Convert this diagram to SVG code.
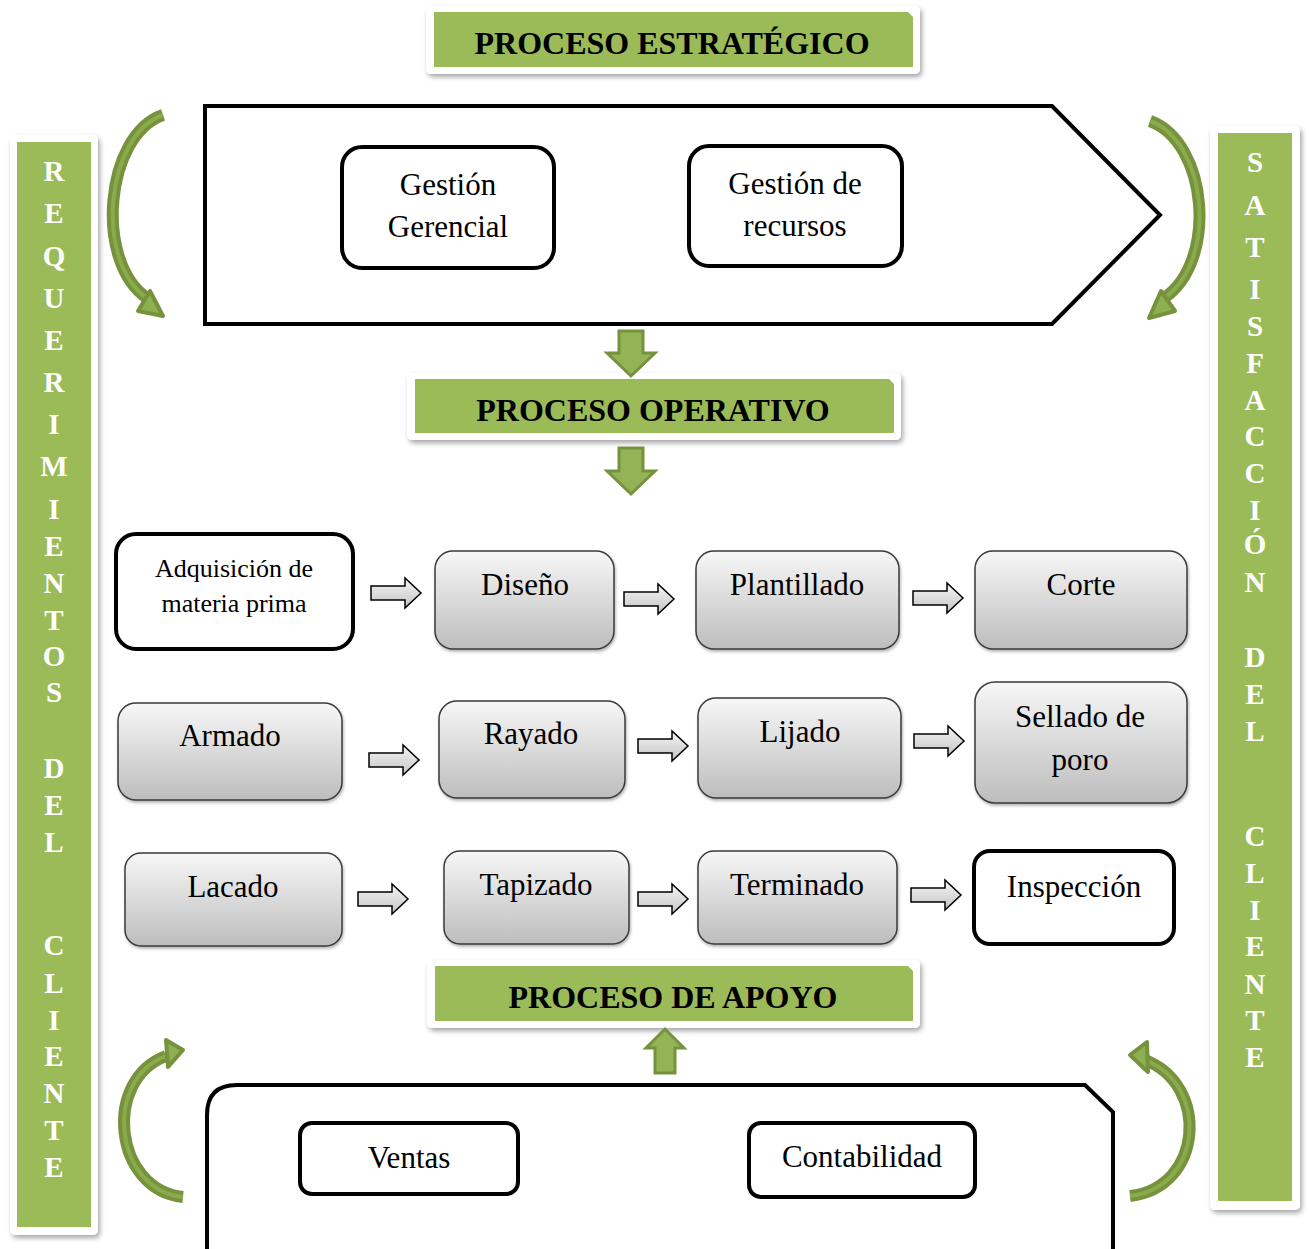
<svg xmlns="http://www.w3.org/2000/svg" width="1309" height="1249" viewBox="0 0 1309 1249">
  <defs>
    <style>
      .card { fill: #ffffff; filter: url(#shadow); }
      .band { fill: #9bbb59; }
      .title { font-family: "Liberation Serif", "Times New Roman", serif; font-weight: bold; font-size: 32px; fill: #000; text-anchor: middle; }
      .side { font-family: "Liberation Serif", "Times New Roman", serif; font-weight: bold; font-size: 29px; fill: #fff; text-anchor: middle; }
      .frame { fill: #fff; stroke: #000; stroke-width: 4; }
      .box { fill: #fff; stroke: #000; stroke-width: 4; }
      .step { fill: url(#grayGrad); stroke: #3a3a3a; stroke-width: 1.5; filter: url(#soft); }
      .lbl { font-family: "Liberation Serif", "Times New Roman", serif; font-size: 31px; fill: #000; text-anchor: middle; }
      .lbl-s { font-family: "Liberation Serif", "Times New Roman", serif; font-size: 26px; fill: #000; text-anchor: middle; }
      .hollow { fill: url(#arrowGrad); stroke: #000; stroke-width: 1.5; stroke-linejoin: miter; }
      .block { fill: #93b356; stroke: #76923c; stroke-width: 3; stroke-linejoin: miter; }
      .curve-out { fill: none; stroke: #76923c; stroke-width: 12; stroke-linecap: butt; }
      .curve-in { fill: none; stroke: #8aab4c; stroke-width: 4; stroke-linecap: butt; }
      .head { fill: #8fb050; stroke: #76923c; stroke-width: 4; stroke-linejoin: round; }
    </style>
    <linearGradient id="grayGrad" x1="0" y1="0" x2="0" y2="1">
      <stop offset="0" stop-color="#f7f7f7"/>
      <stop offset="1" stop-color="#bdbdbd"/>
    </linearGradient>
    <linearGradient id="arrowGrad" x1="0" y1="0" x2="0" y2="1">
      <stop offset="0" stop-color="#f5f5f5"/>
      <stop offset="1" stop-color="#c4c4c4"/>
    </linearGradient>
    <filter id="shadow" x="-10%" y="-10%" width="120%" height="130%">
      <feDropShadow dx="2" dy="3" stdDeviation="2.5" flood-color="#000" flood-opacity="0.35"/>
    </filter>
    <filter id="soft" x="-10%" y="-10%" width="120%" height="130%">
      <feDropShadow dx="1" dy="2" stdDeviation="1.5" flood-color="#000" flood-opacity="0.3"/>
    </filter>
    <!-- hollow step arrow, 50 long, pointing right, origin at tail centre -->
    <path id="stepArrow" d="M0,-7 H34 V-15 L50,0 L34,15 V7 H0 Z"/>
  </defs>

  <rect width="1309" height="1249" fill="#fff"/>

  <!-- side bars -->
  <g id="requerimientos">
    <rect class="card" x="10" y="135" width="88" height="1100" rx="5"/>
    <rect class="band" x="17" y="142" width="74" height="1085"/>
    <g class="side">
      <text x="54" y="181">R</text>
      <text x="54" y="223">E</text>
      <text x="54" y="266">Q</text>
      <text x="54" y="308">U</text>
      <text x="54" y="350">E</text>
      <text x="54" y="392">R</text>
      <text x="54" y="434">I</text>
      <text x="54" y="476">M</text>
      <text x="54" y="519">I</text>
      <text x="54" y="556">E</text>
      <text x="54" y="593">N</text>
      <text x="54" y="630">T</text>
      <text x="54" y="666">O</text>
      <text x="54" y="702">S</text>
      <text x="54" y="778">D</text>
      <text x="54" y="815">E</text>
      <text x="54" y="852">L</text>
      <text x="54" y="955">C</text>
      <text x="54" y="993">L</text>
      <text x="54" y="1030">I</text>
      <text x="54" y="1066">E</text>
      <text x="54" y="1103">N</text>
      <text x="54" y="1140">T</text>
      <text x="54" y="1177">E</text>
    </g>
  </g>

  <g id="satisfaccion">
    <rect class="card" x="1210" y="126" width="90" height="1084" rx="5"/>
    <rect class="band" x="1218" y="133" width="74" height="1068"/>
    <g class="side">
      <text x="1255" y="172">S</text>
      <text x="1255" y="215">A</text>
      <text x="1255" y="257">T</text>
      <text x="1255" y="299">I</text>
      <text x="1255" y="336">S</text>
      <text x="1255" y="373">F</text>
      <text x="1255" y="410">A</text>
      <text x="1255" y="446">C</text>
      <text x="1255" y="483">C</text>
      <text x="1255" y="520">I</text>
      <text x="1255" y="554">Ó</text>
      <text x="1255" y="592">N</text>
      <text x="1255" y="667">D</text>
      <text x="1255" y="704">E</text>
      <text x="1255" y="741">L</text>
      <text x="1255" y="846">C</text>
      <text x="1255" y="883">L</text>
      <text x="1255" y="920">I</text>
      <text x="1255" y="956">E</text>
      <text x="1255" y="994">N</text>
      <text x="1255" y="1030">T</text>
      <text x="1255" y="1067">E</text>
    </g>
  </g>

  <!-- section titles -->
  <g id="titulo-estrategico">
    <rect class="card" x="426" y="6" width="494" height="68" rx="5"/>
    <path class="band" d="M434,12 H908 L913,17 V67 H434 Z"/>
    <text class="title" x="672" y="54">PROCESO ESTRATÉGICO</text>
  </g>

  <g id="titulo-operativo">
    <rect class="card" x="407" y="373" width="494" height="67" rx="5"/>
    <path class="band" d="M415,379 H889 L894,384 V433 H415 Z"/>
    <text class="title" x="653" y="421">PROCESO OPERATIVO</text>
  </g>

  <g id="titulo-apoyo">
    <rect class="card" x="427" y="960" width="493" height="68" rx="5"/>
    <path class="band" d="M435,966 H908 L913,971 V1021 H435 Z"/>
    <text class="title" x="673" y="1008">PROCESO DE APOYO</text>
  </g>

  <!-- strategic process -->
  <g id="estrategico">
    <path class="frame" d="M205,106 H1052 L1160,215 L1052,324 H205 Z"/>
  </g>
  <g id="gestion-gerencial">
    <rect class="box" x="342" y="147" width="212" height="121" rx="20"/>
    <text class="lbl" x="448" y="195">Gestión</text>
    <text class="lbl" x="448" y="237">Gerencial</text>
  </g>
  <g id="gestion-recursos">
    <rect class="box" x="689" y="146" width="213" height="120" rx="20"/>
    <text class="lbl" x="795" y="194">Gestión de</text>
    <text class="lbl" x="795" y="236">recursos</text>
  </g>

  <!-- operative steps, row 1 -->
  <g id="adquisicion">
    <rect class="box" x="116" y="534" width="237" height="115" rx="20"/>
    <text class="lbl-s" x="234" y="577">Adquisición de</text>
    <text class="lbl-s" x="234" y="612">materia prima</text>
  </g>
  <g id="diseno">
    <rect class="step" x="435" y="551" width="179" height="98" rx="18"/>
    <text class="lbl" x="525" y="595">Diseño</text>
  </g>
  <g id="plantillado">
    <rect class="step" x="696" y="551" width="203" height="98" rx="18"/>
    <text class="lbl" x="797" y="595">Plantillado</text>
  </g>
  <g id="corte">
    <rect class="step" x="975" y="551" width="212" height="98" rx="18"/>
    <text class="lbl" x="1081" y="595">Corte</text>
  </g>

  <!-- row 2 -->
  <g id="armado">
    <rect class="step" x="118" y="703" width="224" height="97" rx="18"/>
    <text class="lbl" x="230" y="746">Armado</text>
  </g>
  <g id="rayado">
    <rect class="step" x="439" y="701" width="186" height="97" rx="18"/>
    <text class="lbl" x="531" y="744">Rayado</text>
  </g>
  <g id="lijado">
    <rect class="step" x="698" y="698" width="203" height="100" rx="18"/>
    <text class="lbl" x="800" y="742">Lijado</text>
  </g>
  <g id="sellado">
    <rect class="step" x="975" y="682" width="212" height="121" rx="20"/>
    <text class="lbl" x="1080" y="727">Sellado de</text>
    <text class="lbl" x="1080" y="770">poro</text>
  </g>

  <!-- row 3 -->
  <g id="lacado">
    <rect class="step" x="125" y="853" width="217" height="93" rx="16"/>
    <text class="lbl" x="233" y="897">Lacado</text>
  </g>
  <g id="tapizado">
    <rect class="step" x="444" y="851" width="185" height="93" rx="16"/>
    <text class="lbl" x="536" y="895">Tapizado</text>
  </g>
  <g id="terminado">
    <rect class="step" x="698" y="851" width="199" height="93" rx="16"/>
    <text class="lbl" x="797" y="895">Terminado</text>
  </g>
  <g id="inspeccion">
    <rect class="box" x="974" y="851" width="200" height="93" rx="16"/>
    <text class="lbl" x="1074" y="897">Inspección</text>
  </g>

  <!-- support process -->
  <g id="apoyo">
    <path class="frame" d="M207,1252 V1115 Q207,1085 237,1085 H1085 L1113,1112 V1252"/>
  </g>
  <g id="ventas">
    <rect class="box" x="300" y="1123" width="218" height="71" rx="12"/>
    <text class="lbl" x="409" y="1168">Ventas</text>
  </g>
  <g id="contabilidad">
    <rect class="box" x="749" y="1123" width="226" height="74" rx="12"/>
    <text class="lbl" x="862" y="1167">Contabilidad</text>
  </g>

  <!-- connectors -->
  <g id="connectors">
    <!-- flow between steps -->
    <use href="#stepArrow" class="hollow" transform="translate(371,593)"/>
    <use href="#stepArrow" class="hollow" transform="translate(624,599)"/>
    <use href="#stepArrow" class="hollow" transform="translate(913,598)"/>
    <use href="#stepArrow" class="hollow" transform="translate(369,760)"/>
    <use href="#stepArrow" class="hollow" transform="translate(638,746)"/>
    <use href="#stepArrow" class="hollow" transform="translate(914,741)"/>
    <use href="#stepArrow" class="hollow" transform="translate(358,899)"/>
    <use href="#stepArrow" class="hollow" transform="translate(638,899)"/>
    <use href="#stepArrow" class="hollow" transform="translate(911,895)"/>

    <!-- green block arrows -->
    <path class="block" d="M619,331 H643 V353 H655 L631,376 L607,353 H619 Z"/>
    <path class="block" d="M619,448 H643 V471 H655 L631,494 L607,471 H619 Z"/>
    <path class="block" d="M655,1073 H675 V1048 H684 L665,1029 L646,1048 H655 Z"/>

    <!-- curved arrows -->
    <path class="curve-out" d="M163,115 C105,135 94,262 147,298"/>
    <path class="curve-in" d="M163,115 C105,135 94,262 147,298"/>
    <polygon class="head" points="150,291 163,316 138,311"/>

    <path class="curve-out" d="M1150,121 C1208,142 1218,262 1164,298"/>
    <path class="curve-in" d="M1150,121 C1208,142 1218,262 1164,298"/>
    <polygon class="head" points="1161,291 1149,318 1175,311"/>

    <path class="curve-out" d="M183,1197 C114,1190 102,1080 166,1056"/>
    <path class="curve-in" d="M183,1197 C114,1190 102,1080 166,1056"/>
    <polygon class="head" points="166,1040 183,1050 168,1067"/>

    <path class="curve-out" d="M1130,1196 C1203,1188 1210,1085 1145,1060"/>
    <path class="curve-in" d="M1130,1196 C1203,1188 1210,1085 1145,1060"/>
    <polygon class="head" points="1147,1042 1130,1055 1148,1072"/>
  </g>
</svg>
